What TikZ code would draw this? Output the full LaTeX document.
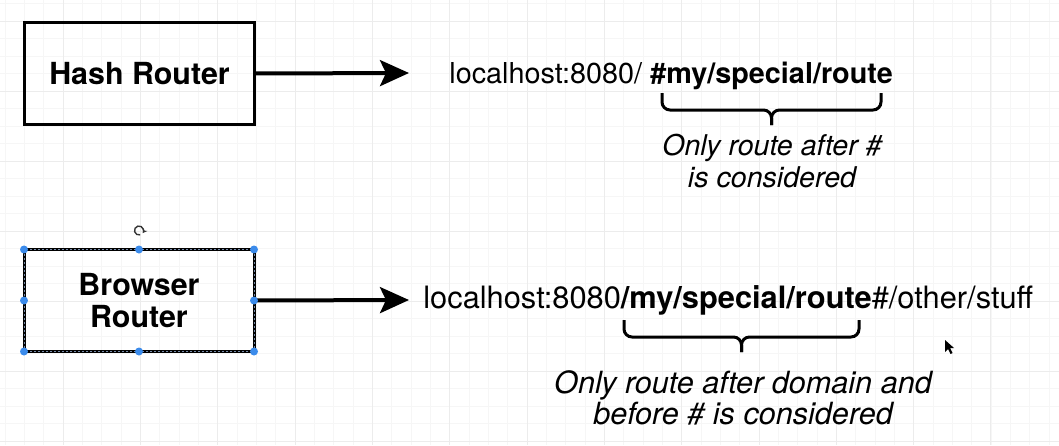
\documentclass[tikz,border=0pt]{standalone}
\usepackage{fontspec}
\setmainfont{TeX Gyre Heros}
\usepackage{tikz}
\usetikzlibrary{arrows.meta, calc, positioning}
\definecolor{handleblue}{RGB}{59,139,235}
\definecolor{selectline}{RGB}{120,140,170}
\definecolor{gridmajorcol}{RGB}{236,236,236}
\definecolor{gridminorcol}{RGB}{246,246,246}
\newcommand{\boxfont}{\bfseries\fontsize{15.2}{16}\selectfont}

\begin{document}
\begin{tikzpicture}[x=0.5pt, y=-0.5pt]
% TikZ styles
\tikzset{
  router/.style={rectangle, draw=black, line width=1.5pt, minimum width=115pt, minimum height=51pt, outer sep=0pt, align=center, font=\boxfont},
  arrow/.style={-{Stealth[length=14.5pt, width=13pt, inset=3pt]}, line width=2pt},
  url/.style={anchor=base west, inner sep=0pt},
  note/.style={anchor=base, align=center, inner sep=0pt},
  curly/.style={line width=1.5pt, rounded corners=4pt},
  handle/.style={circle, fill=handleblue, inner sep=0pt, minimum size=4pt},
  selectdots/.style={draw=selectline, line width=0.5pt, dash pattern=on 1pt off 1pt},
  gridmajor/.style={draw=gridmajorcol, line width=0.5pt},
  gridminor/.style={draw=gridminorcol, line width=0.5pt}
};
\useasboundingbox (0,0) rectangle (1059,445);
\fill[white] (0,0) rectangle (1059,445);

%==========================
% Raster
%==========================
\foreach \i in {0,...,56} \draw[gridminor] ({-14+19.33*\i},0) -- ({-14+19.33*\i},445);
\foreach \j in {0,...,26} \draw[gridminor] (0,{21+17.5*(\j-1)}) -- (1059,{21+17.5*(\j-1)});
\foreach \i in {0,...,14} \draw[gridmajor] ({-14+77.3*\i},0) -- ({-14+77.3*\i},445);
\foreach \j in {0,...,6} \draw[gridmajor] (0,{21+70*\j}) -- (1059,{21+70*\j});

%==========================
% Hash Router
%==========================
\node[router] (hash) at (139.5,73.5) {Hash Router};
\node[url, font=\fontsize{14.4}{16}\selectfont] (hashurl) at (449,83) {localhost:8080/ \textbf{\#my/special/route}};
\coordinate (hashtip) at (409,73);
\draw[arrow] (hash.east) -- (hashtip);

\coordinate (hashbl) at (662,93);
\coordinate (hashbr) at (881,93);
\coordinate (hashbm) at (771.5,110);
\coordinate (hashbt) at (771.5,125);
\draw[curly] (hashbl) |- (hashbm) -- (hashbt);
\draw[curly] (hashbr) |- (hashbm) -- (hashbt);

\node[note, font=\itshape\fontsize{14.3}{16}\selectfont] (hashnote) at (772,187) {Only route after \#\\is considered};

%==========================
% Browser Router
%==========================
\node[router] (browser) at (139,300.5) {Browser\\Router};
\node[url, font=\fontsize{15.4}{16}\selectfont] (browserurl) at (423,308) {localhost:8080\textbf{/my/special/route}\#/other/stuff};
\coordinate (browsertip) at (409,300);
\draw[arrow] (browser.east) -- (browsertip);

\coordinate (browserbl) at (624,320);
\coordinate (browserbr) at (859,320);
\coordinate (browserbm) at (741.5,337);
\coordinate (browserbt) at (741.5,352);
\draw[curly] (browserbl) |- (browserbm) -- (browserbt);
\draw[curly] (browserbr) |- (browserbm) -- (browserbt);

\node[note, font=\itshape\fontsize{15.3}{15.5}\selectfont] (browsernote) at (743,424) {Only route after domain and\\before \# is considered};

% Auswahl
\draw[selectdots] (browser.north west) rectangle (browser.south east);
\foreach \a in {north west, north, north east, east, south east, south, south west, west}
  \node[handle] at (browser.\a) {};
\coordinate (rot) at ($(browser.north)+(0,-19)$);
\draw[line width=0.7pt, draw=black!80, -{Stealth[length=2.2pt, width=2.6pt]}] ($(rot)+(75:4.5)$) arc[start angle=75, end angle=395, radius=4.5];

% Mauszeiger
\fill[black] (945,340) -- ++(0,12) -- ++(3,-3) -- ++(2.5,5) -- ++(2,-1) -- ++(-2.5,-5) -- ++(4,0) -- cycle;
\end{tikzpicture}
\end{document}
